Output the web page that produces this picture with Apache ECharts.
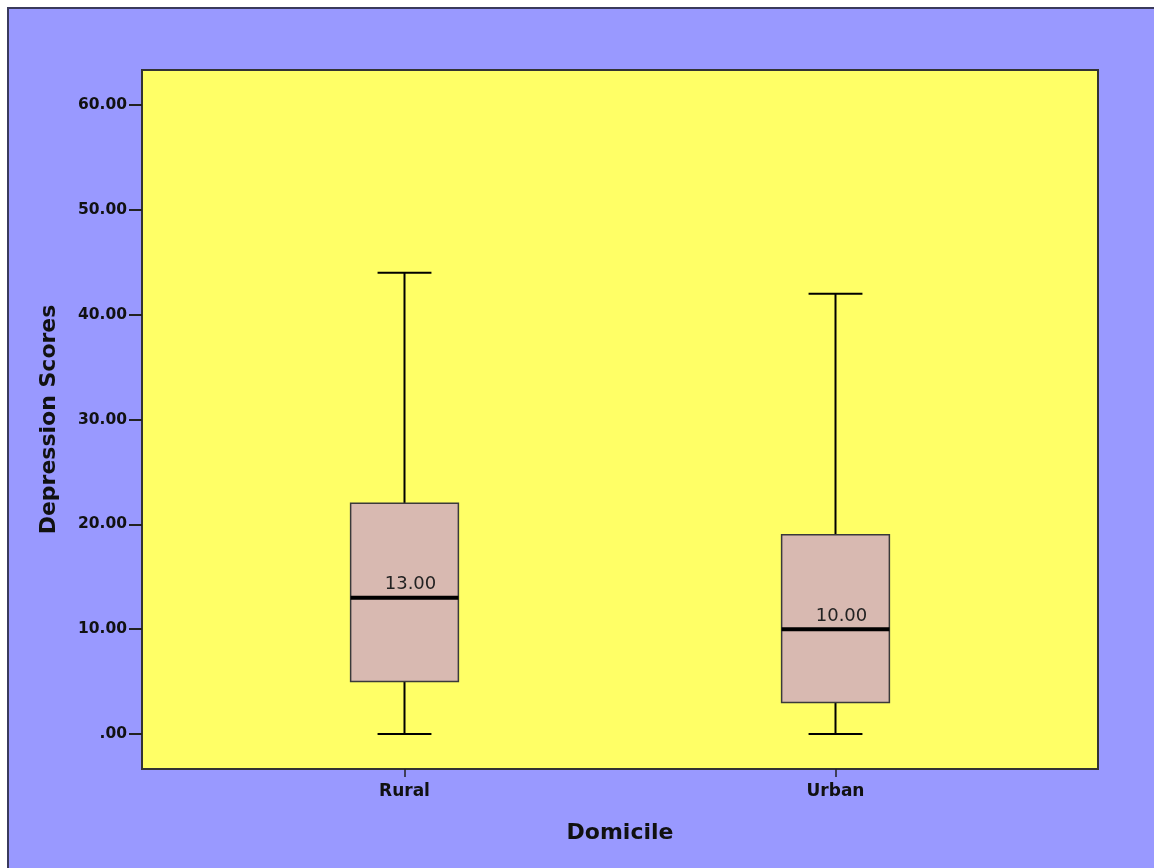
<!DOCTYPE html>
<html>
<head>
<meta charset="utf-8">
<script src="https://cdn.jsdelivr.net/npm/echarts@6/dist/echarts.min.js"></script>
<style>
html,body{margin:0;padding:0;background:#fff;}
#chart{width:1154px;height:868px;}
</style>
</head>
<body>
<div id="chart"></div>
<script>
const categories = ['Rural', 'Urban'];
const minValues = [0, 0];
const q1Values = [5, 3];
const medianValues = [13, 10];
const q3Values = [22, 19];
const maxValues = [44, 42];
const yTickValues = [0, 10, 20, 30, 40, 50, 60];

const seriesData = categories.map((c, i) => [i, minValues[i], q1Values[i], medianValues[i], q3Values[i], maxValues[i]]);

function fmt(v) {
  const s = Number(v).toFixed(2);
  return s.startsWith('0.') ? s.slice(1) : s;
}

function renderItem(params, api) {
  const idx = api.value(0);
  const vMin = api.value(1), vQ1 = api.value(2), vMed = api.value(3), vQ3 = api.value(4), vMax = api.value(5);
  const cx = api.coord([idx, vMed])[0];
  const band = api.size([1, 0])[0];
  const boxW = band * 0.25;
  const capW = band * 0.125;
  const yMin = api.coord([idx, vMin])[1];
  const yQ1 = api.coord([idx, vQ1])[1];
  const yMed = api.coord([idx, vMed])[1];
  const yQ3 = api.coord([idx, vQ3])[1];
  const yMax = api.coord([idx, vMax])[1];
  const lineStyle = { stroke: '#000', lineWidth: 2 };
  return {
    type: 'group',
    children: [
      { type: 'line', shape: { x1: cx, y1: yMax, x2: cx, y2: yQ3 }, style: lineStyle },
      { type: 'line', shape: { x1: cx, y1: yQ1, x2: cx, y2: yMin }, style: lineStyle },
      { type: 'line', shape: { x1: cx - capW / 2, y1: yMax, x2: cx + capW / 2, y2: yMax }, style: lineStyle },
      { type: 'line', shape: { x1: cx - capW / 2, y1: yMin, x2: cx + capW / 2, y2: yMin }, style: lineStyle },
      { type: 'rect', shape: { x: cx - boxW / 2, y: yQ3, width: boxW, height: yQ1 - yQ3 },
        style: { fill: '#D8B9B1', stroke: '#3a3a3a', lineWidth: 1.5 } },
      { type: 'line', shape: { x1: cx - boxW / 2, y1: yMed, x2: cx + boxW / 2, y2: yMed },
        style: { stroke: '#000', lineWidth: 4 } },
      { type: 'text', x: cx + 6, y: yMed - 4,
        style: { text: fmt(vMed), fill: '#222', font: '18px "DejaVu Sans"', align: 'center', verticalAlign: 'bottom' } }
    ]
  };
}

const chart = echarts.init(document.getElementById('chart'), null, { renderer: 'canvas' });
chart.setOption({
  backgroundColor: '#ffffff',
  animation: false,
  graphic: {
    elements: [
      { type: 'rect', z: -100, shape: { x: 8, y: 8, width: 1300, height: 1000 },
        style: { fill: '#9999FF', stroke: '#3a3a5c', lineWidth: 2 } }
    ]
  },
  grid: [
    { left: 142, top: 70, width: 956, height: 699, show: true, backgroundColor: '#FFFF66',
      borderColor: '#333333', borderWidth: 2, containLabel: false },
    { left: 189, top: 105, width: 862, height: 629, containLabel: false },
    { left: 189, top: 70, width: 862, height: 699, containLabel: false }
  ],
  xAxis: [
    { gridIndex: 0, type: 'value', show: false, min: 0, max: 1 },
    { gridIndex: 1, type: 'category', data: categories, show: false },
    { gridIndex: 2, type: 'category', data: categories, position: 'bottom',
      axisLine: { show: false },
      axisTick: { show: true, alignWithLabel: true, length: 8, lineStyle: { color: '#222', width: 1.5 } },
      axisLabel: { margin: 14, color: '#111', fontFamily: 'DejaVu Sans', fontWeight: 'bold', fontSize: 17 },
      name: 'Domicile', nameLocation: 'middle', nameGap: 53,
      nameTextStyle: { color: '#111', fontFamily: 'DejaVu Sans', fontWeight: 'bold', fontSize: 22 }
    }
  ],
  yAxis: [
    { gridIndex: 0, type: 'value', show: false, min: 0, max: 1 },
    { gridIndex: 1, type: 'value', min: yTickValues[0], max: yTickValues[yTickValues.length - 1], interval: 10,
      position: 'left', offset: 47,
      axisLine: { show: false },
      splitLine: { show: false },
      axisTick: { show: true, length: 13, lineStyle: { color: '#222', width: 2 } },
      axisLabel: { margin: 15, color: '#111', fontFamily: 'DejaVu Sans', fontWeight: 'bold', fontSize: 15.5,
        formatter: v => fmt(v) },
      name: 'Depression Scores', nameLocation: 'middle', nameGap: 82,
      nameTextStyle: { color: '#111', fontFamily: 'DejaVu Sans', fontWeight: 'bold', fontSize: 22 }
    },
    { gridIndex: 2, type: 'value', show: false, min: 0, max: 1 }
  ],
  series: [
    { type: 'custom', xAxisIndex: 1, yAxisIndex: 1, renderItem: renderItem, data: seriesData,
      encode: { x: 0, y: [1, 2, 3, 4, 5] }, clip: false }
  ]
});
</script>
</body>
</html>
